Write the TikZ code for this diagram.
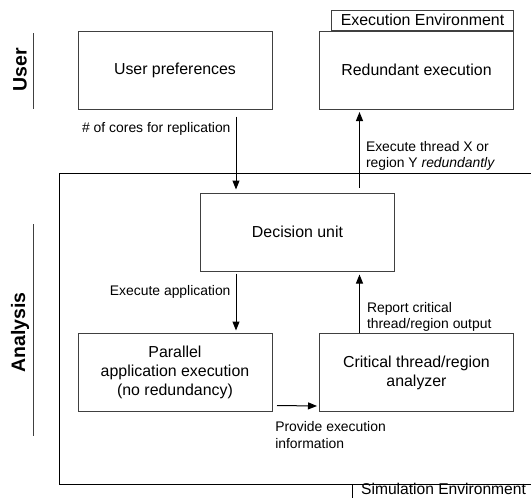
\documentclass[tikz,border=0pt]{standalone}
\usepackage{fontspec}
\setmainfont{Liberation Sans}
\usepackage{tikz}
\usetikzlibrary{positioning, arrows.meta}

\begin{document}
\begin{tikzpicture}[x=1pt, y=-1pt, on grid, >={Triangle[length=9pt,width=7pt]},
    block/.style={draw=black!75, line width=1pt, minimum width=194pt, minimum height=78pt,
        align=center, font=\fontsize{15.9}{19}\selectfont},
    lbl/.style={inner sep=2pt, align=left, font=\fontsize{13.9}{16.4}\selectfont},
    side/.style={rotate=90, font=\fontsize{19.5}{23}\selectfont\bfseries},
    flow/.style={->, line width=1pt}]
        \useasboundingbox (0,0) rectangle (531,498);

        \node[side] (user) at (20,70) {User};
        \node[side] (analysis) at (20,332.5) {Analysis};
        \draw[black!75, line width=1pt] (33,33) -- (33,109);
        \draw[black!75, line width=1pt] (33,224) -- (33,436);

        \draw[line width=1pt] (531,173) -| (59,484) -- (531,484);
        \draw[line width=1pt] (352,484) -- (352,498);
        \node[anchor=base west, inner sep=0pt, font=\fontsize{15.6}{19}\selectfont] (simenv) at (361,494.3) {Simulation Environment};

        \node[block] (pref) at (175,70) {User preferences};
        \node[block] (redund) [right=241.5pt of pref] {Redundant execution};
        \node[draw=black!75, line width=1pt, anchor=south east, minimum width=182pt, minimum height=19.5pt,
            inner sep=0pt, font=\fontsize{15.9}{19}\selectfont] (exectab) at (redund.north east) {Execution Environment};
        \node[block] (decision) at (297.5,232) {Decision unit};
        \node[block] (parallel) [below=302.5pt of pref] {Parallel\\application execution\\(no redundancy)};
        \node[block] (critical) [right=241.5pt of parallel] {Critical thread/region\\analyzer};

        \draw[flow] ([xshift=61pt,yshift=-7pt]pref.south) -- ([xshift=-61.5pt,yshift=3pt]decision.north)
            node[lbl, pos=0.17, left=3pt] {\# of cores for replication};
        \draw[flow] ([xshift=62pt,yshift=5pt]decision.north) -- ([xshift=-57pt,yshift=-2.5pt]redund.south)
            node[lbl, pos=0.42, right=4pt] {Execute thread X or\\region Y \textit{redundantly}};
        \draw[flow] ([xshift=-61.5pt,yshift=-2pt]decision.south) -- ([xshift=61pt,yshift=2.5pt]parallel.north)
            node[lbl, pos=0.32, left=3pt] {Execute application};
        \draw[flow] ([xshift=-57pt]critical.north) -- ([xshift=62pt,yshift=-3pt]decision.south)
            node[lbl, pos=0.28, right=5pt] {Report critical\\thread/region output};
        \draw[flow] ([xshift=4.5pt,yshift=-33pt]parallel.east) -- ([xshift=-2pt,yshift=-33.5pt]critical.west)
            node[lbl, pos=0, anchor=west, xshift=-4.2pt, yshift=-29.4pt] {Provide execution\\information};

\end{tikzpicture}
\end{document}
